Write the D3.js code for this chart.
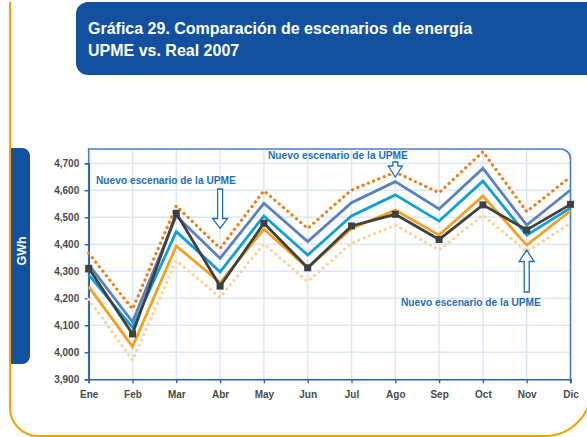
<!DOCTYPE html>
<html>
<head>
<meta charset="utf-8">
<script src="https://cdn.jsdelivr.net/npm/d3@7"></script>
<style>
  html, body { margin: 0; padding: 0; background: #fff; }
  svg { display: block; font-family: "Liberation Sans", Arial, sans-serif; }
</style>
</head>
<body>
<svg id="chart" width="587" height="437"></svg>
<script>
// Gráfica 29 — escenarios UPME vs. real 2007 (GWh)
const months = ['Ene', 'Feb', 'Mar', 'Abr', 'May', 'Jun', 'Jul', 'Ago', 'Sep', 'Oct', 'Nov', 'Dic'];
const yTicks = [3900, 4000, 4100, 4200, 4300, 4400, 4500, 4600, 4700];

// values
const escAlto      = [4367, 4160, 4542, 4385, 4598, 4459, 4601, 4667, 4591, 4743, 4521, 4650];
const escMedioAlto = [4325, 4113, 4505, 4348, 4552, 4410, 4554, 4632, 4531, 4681, 4471, 4601];
const escMedio     = [4287, 4092, 4447, 4298, 4505, 4360, 4505, 4583, 4486, 4634, 4434, 4535];
const escMedioBajo = [4243, 4021, 4394, 4258, 4456, 4312, 4459, 4527, 4434, 4579, 4397, 4524];
const escBajo      = [4196, 3971, 4339, 4204, 4401, 4262, 4404, 4471, 4379, 4508, 4373, 4478];
const real2007     = [4311, 4068, 4515, 4245, 4478, 4313, 4468, 4511, 4418, 4546, 4453, 4548];

const annotationText = 'Nuevo escenario de la UPME';

const svg = d3.select('#chart');
const BLUE = '#1351a0';

// Orange page frame
svg.append('path')
    .attr('d', 'M10,2 V408 A28,28 0 0 0 38,436 H545 A46,46 0 0 0 591,390')
    .attr('fill', 'none')
    .attr('stroke', '#f5a300')
    .attr('stroke-width', 2);

// Title box
svg.append('rect')
    .attr('x', 76).attr('y', 2).attr('width', 540).attr('height', 73)
    .attr('rx', 12).attr('fill', BLUE);
svg.append('text').attr('x', 88).attr('y', 34.3)
    .attr('fill', '#fff').attr('font-size', 16).attr('font-weight', 'bold')
    .text('Gráfica 29. Comparación de escenarios de energía');
svg.append('text').attr('x', 88).attr('y', 55.5)
    .attr('fill', '#fff').attr('font-size', 16).attr('font-weight', 'bold')
    .text('UPME vs. Real 2007');

// GWh tab
svg.append('path')
    .attr('d', 'M11,148 H22 A8,8 0 0 1 30,156 V356 A8,8 0 0 1 22,364 H11 Z')
    .attr('fill', BLUE);
svg.append('text')
    .attr('transform', 'translate(25.5,251) rotate(-90)')
    .attr('text-anchor', 'middle')
    .attr('fill', '#fff').attr('font-size', 12.5).attr('font-weight', 'bold')
    .text('GWh');

// Scales
const x0 = 88.7, x1 = 570.5, yTop = 149, yBot = 379.3;
const x = d3.scalePoint().domain(months).range([x0, x1]);
const y = d3.scaleLinear().domain([3900, 4700]).range([yBot, 163.3]);

// Grid
const grid = svg.append('g');
grid.selectAll('.hg').data(yTicks.slice(1)).join('line')
    .attr('x1', x0).attr('x2', x1)
    .attr('y1', d => y(d)).attr('y2', d => y(d))
    .attr('stroke', '#dde8f6').attr('stroke-width', 1.5);
grid.selectAll('.vg').data(months.slice(1)).join('line')
    .attr('x1', d => x(d)).attr('x2', d => x(d))
    .attr('y1', yTop).attr('y2', yBot)
    .attr('stroke', '#dde8f6').attr('stroke-width', 1.5);

// Plot frame with rounded top-right corner
svg.append('path')
    .attr('d', `M${x0},${yBot} V${yTop} H${x1 - 10} A10,10 0 0 1 ${x1},${yTop + 10} V${yBot}`)
    .attr('fill', 'none')
    .attr('stroke', '#4f7ec2')
    .attr('stroke-width', 1.6);

// Axes
const yAxis = svg.append('g')
    .attr('transform', `translate(${x0},0)`)
    .call(d3.axisLeft(y).tickValues(yTicks).tickSize(4).tickPadding(5.5).tickFormat(d3.format(',')));
const xAxis = svg.append('g')
    .attr('transform', `translate(0,${yBot})`)
    .call(d3.axisBottom(x).tickSize(4).tickPadding(7.5));
[yAxis, xAxis].forEach(a => {
    a.select('.domain').attr('stroke', '#2c5ea8').attr('stroke-width', 1.6);
    a.selectAll('.tick line').attr('stroke', '#2c5ea8').attr('stroke-width', 1.4);
    a.selectAll('.tick text')
        .attr('fill', '#4a4a4a')
        .attr('font-size', 10)
        .attr('font-weight', 'bold')
        .attr('font-family', '"Liberation Sans", Arial, sans-serif');
});

// Series
const line = d3.line().x((d, i) => x(months[i])).y(d => y(d));
const series = [
    { values: escBajo,      color: '#fdd39c', dotted: true },
    { values: escAlto,      color: '#ef7d18', dotted: true },
    { values: escMedioAlto, color: '#5b80c1' },
    { values: escMedio,     color: '#139fd3' },
    { values: escMedioBajo, color: '#f2a122' },
    { values: real2007,     color: '#404040', markers: true },
];

series.forEach(s => {
    const p = svg.append('path')
        .datum(s.values)
        .attr('d', line)
        .attr('fill', 'none')
        .attr('stroke', s.color)
        .attr('stroke-linejoin', 'miter');
    if (s.dotted) {
        p.attr('stroke-width', 3.2)
         .attr('stroke-linecap', 'round')
         .attr('stroke-dasharray', '0.1,5.6');
    } else {
        p.attr('stroke-width', 2.8);
    }
    if (s.markers) {
        svg.append('g').selectAll('rect').data(s.values).join('rect')
            .attr('x', (d, i) => x(months[i]) - 3.5)
            .attr('y', d => y(d) - 3.5)
            .attr('width', 7).attr('height', 7)
            .attr('fill', s.color);
    }
});

// Annotations
const ANN = '#1f6eb5';
function label(tx, ty) {
    svg.append('text').attr('x', tx).attr('y', ty)
        .attr('fill', ANN).attr('font-size', 10.2).attr('font-weight', 'bold')
        .text(annotationText);
}
// hollow block arrow: tip at (ax, tipY), tail at tailY
function arrow(ax, tailY, tipY, headLen, headW, shaftW) {
    const dir = tipY > tailY ? 1 : -1;
    const hb = tipY - dir * headLen;
    const d = `M${ax - shaftW / 2},${tailY} V${hb} H${ax - headW / 2} L${ax},${tipY} L${ax + headW / 2},${hb} H${ax + shaftW / 2} V${tailY} Z`;
    svg.append('path').attr('d', d)
        .attr('fill', '#fff').attr('stroke', ANN).attr('stroke-width', 1.3);
}

label(96, 184.3);
arrow(x('Abr'), 189, 228.5, 10, 15, 5);

label(268, 159);
arrow(x('Ago'), 162, 177, 11, 14, 5);

label(401, 305.7);
arrow(x('Nov'), 292, 250, 11.5, 15, 5);
</script>
</body>
</html>
